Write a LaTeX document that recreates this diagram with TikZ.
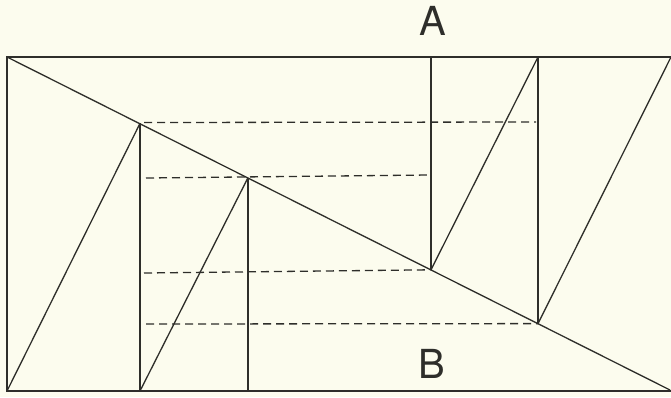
\documentclass[tikz,border=0pt]{standalone}
\usepackage{fontspec}
\setmainfont{TeX Gyre Heros}
\definecolor{paper}{HTML}{FCFCEE}
\definecolor{ink}{HTML}{2E2E2A}
\begin{document}
\begin{tikzpicture}[x=1pt,y=-1pt,
  solidline/.style={draw=ink,line width=1.3pt},
  frameline/.style={draw=ink,line width=1.8pt},
  dashline/.style={draw=ink,line width=1.3pt,dash pattern=on 8pt off 5pt},
  lbl/.style={text=ink,font=\fontsize{40}{40}\selectfont,inner sep=0pt}]
\fill[paper] (0,0) rectangle (671,397);
\useasboundingbox (0,0) rectangle (671,397);
% corners
\coordinate (TL) at (7,57);
\coordinate (TR) at (671,57);
\coordinate (BL) at (7,391);
\coordinate (BR) at (671,391);
% points on the diagonal
\coordinate (P1) at (140,123.4);
\coordinate (P2) at (248,177.7);
\coordinate (P3) at (431,269.8);
\coordinate (P4) at (538,323.6);
% feet / heads
\coordinate (F1) at (140,391);
\coordinate (F2) at (248,391);
\coordinate (H3) at (431,57);
\coordinate (H4) at (538,57);
\coordinate (DE) at (670,390);
% frame
\draw[frameline] (TR) -- (TL) -- (BL) -- (BR);
% diagonal
\draw[solidline] (TL) -- (DE);
% verticals
\draw[solidline] (P1) -- (F1);
\draw[solidline] (P2) -- (F2);
\draw[solidline] (H3) -- (P3);
\draw[solidline] (H4) -- (P4);
% slanted lines
\draw[solidline] (BL) -- (P1);
\draw[solidline] (F1) -- (P2);
\draw[solidline] (P3) -- (H4);
\draw[solidline] (P4) -- (TR);
% dashed lines
\coordinate (D1a) at (144,122.5); \coordinate (D1b) at (536,122);
\coordinate (D2a) at (146,178);   \coordinate (D2b) at (429,175);
\coordinate (D3a) at (144,273);   \coordinate (D3b) at (P3);
\coordinate (D4a) at (146,324);   \coordinate (D4b) at (P4);
\draw[dashline] (D1a) -- (D1b);
\draw[dashline] (D2a) -- (D2b);
\draw[dashline] (D3a) -- (D3b);
\draw[dashline] (D4a) -- (D4b);
% labels
\node[lbl] (A) at (433,21) {A};
\node[lbl] (B) at (432,364) {B};
\end{tikzpicture}
\end{document}
